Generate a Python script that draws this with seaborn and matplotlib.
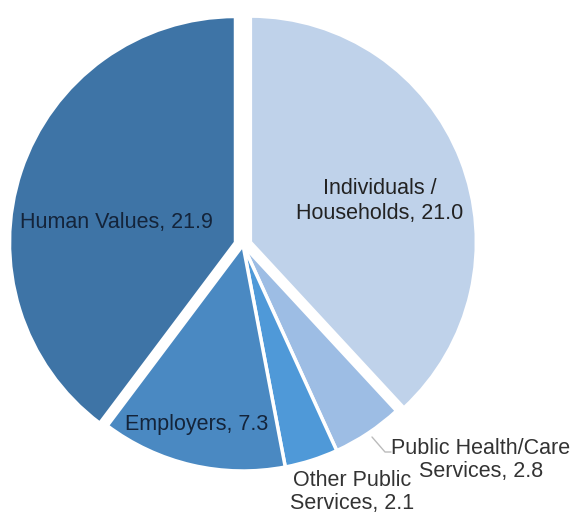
import matplotlib
matplotlib.use("Agg")
import matplotlib.pyplot as plt
import seaborn as sns

categories = ["Individuals /\nHouseholds", "Public Health/Care\nServices", "Other Public\nServices",
              "Employers", "Human Values"]
values = [21.0, 2.8, 2.1, 7.3, 21.9]
colors = ["#BFD2EA", "#9DBDE4", "#4F99D8", "#4A89C2", "#3E74A6"]

sns.set_theme(style="white")
plt.rcParams["font.family"] = ["Liberation Sans", "DejaVu Sans"]

fig = plt.figure(figsize=(5.75, 5.16), dpi=100)
ax = fig.add_axes([0, 0, 1, 1])
cx, cy, R = 243.0, 245.0, 226.0
W, H = 575.0, 516.0
ax.set_aspect("equal")
ax.axis("off")

explode = [0.035, 0, 0, 0, 0.035]
ax.pie(values, colors=colors, startangle=90, counterclock=False, explode=explode,
       radius=1.0, center=(0, 0), frame=False,
       wedgeprops=dict(edgecolor="white", linewidth=2.5))
ax.set_xlim(-cx / R, (W - cx) / R)
ax.set_ylim(-(H - cy) / R, cy / R)

def d(px, py):
    return (px - cx) / R, (cy - py) / R

fs = 15.5
lbl = [f"{c}, {v:.1f}" for c, v in zip(categories, values)]
ax.text(*d(380, 201), lbl[0], ha="center", va="center", fontsize=fs, color="#222222", linespacing=1.2)
ax.text(*d(481, 460), lbl[1], ha="center", va="center", fontsize=fs, color="#333333", linespacing=1.15)
ax.text(*d(352, 492), lbl[2], ha="center", va="center", fontsize=fs, color="#333333", linespacing=1.1)
ax.text(*d(197, 425), lbl[3], ha="center", va="center", fontsize=fs, color="#14243a")
ax.text(*d(116, 223), lbl[4], ha="center", va="center", fontsize=fs, color="#14243a")

p1, p2, p3 = d(372, 437), d(385, 452), d(391, 452)
ax.plot([p1[0], p2[0], p3[0]], [p1[1], p2[1], p3[1]], color="#BBBBBB", lw=1)

fig.savefig("out.png", dpi=100)
